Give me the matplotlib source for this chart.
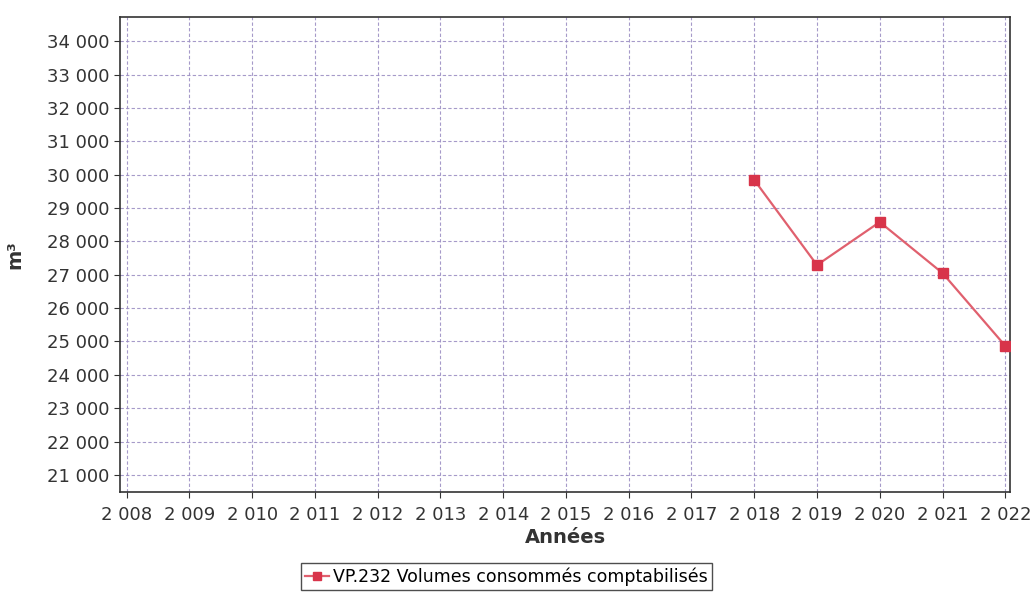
#!/usr/bin/env python3
"""Volumes consommés comptabilisés (VP.232) par année."""

import matplotlib
matplotlib.use("Agg")
import matplotlib.pyplot as plt
from matplotlib.ticker import FuncFormatter, MultipleLocator

YEARS = [2018, 2019, 2020, 2021, 2022]
VOLUMES = [29840, 27290, 28580, 27050, 24870]
SERIES_LABEL = "VP.232 Volumes consommés comptabilisés"

LINE_COLOR = "#e0606e"
MARKER_COLOR = "#d8344a"
GRID_COLOR = "#9c8fc4"


def fr_thousands(value, _pos=None):
    return f"{int(round(value)):,}".replace(",", " ")


def main() -> None:
    plt.rcParams["font.family"] = "DejaVu Sans"
    fig = plt.figure(figsize=(10.33, 5.92), dpi=100)
    ax = fig.add_axes([0.116, 0.169, 0.862, 0.802])

    ax.plot(
        YEARS,
        VOLUMES,
        color=LINE_COLOR,
        linewidth=1.6,
        marker="s",
        markersize=7,
        markerfacecolor=MARKER_COLOR,
        markeredgecolor=MARKER_COLOR,
        label=SERIES_LABEL,
        zorder=3,
    )

    ax.set_xlim(2007.89, 2022.08)
    ax.set_ylim(20490, 34720)
    ax.xaxis.set_major_locator(MultipleLocator(1))
    ax.yaxis.set_major_locator(MultipleLocator(1000))
    ax.xaxis.set_major_formatter(FuncFormatter(fr_thousands))
    ax.yaxis.set_major_formatter(FuncFormatter(fr_thousands))
    ax.tick_params(axis="both", labelsize=13, colors="#333333",
                   direction="out", length=4, width=0.8)
    ax.tick_params(axis="x", pad=6)

    ax.grid(True, color=GRID_COLOR, linestyle=(0, (3, 2)), linewidth=0.8, alpha=0.9)
    for spine in ax.spines.values():
        spine.set_color("#333333")
        spine.set_linewidth(1.2)

    ax.set_xlabel("Années", fontsize=14, fontweight="bold", color="#333333", labelpad=3)
    ax.set_ylabel("m³", fontsize=14, fontweight="bold", color="#333333", labelpad=16)

    fig.legend(
        loc="lower center",
        bbox_to_anchor=(0.49, -0.012),
        fontsize=12.5,
        frameon=True,
        fancybox=False,
        edgecolor="#222222",
        handlelength=1.4,
        borderpad=0.25,
        handletextpad=0.2,
        markerscale=0.8,
    )

    fig.savefig("out.png", dpi=100)
    plt.close(fig)


if __name__ == "__main__":
    main()
